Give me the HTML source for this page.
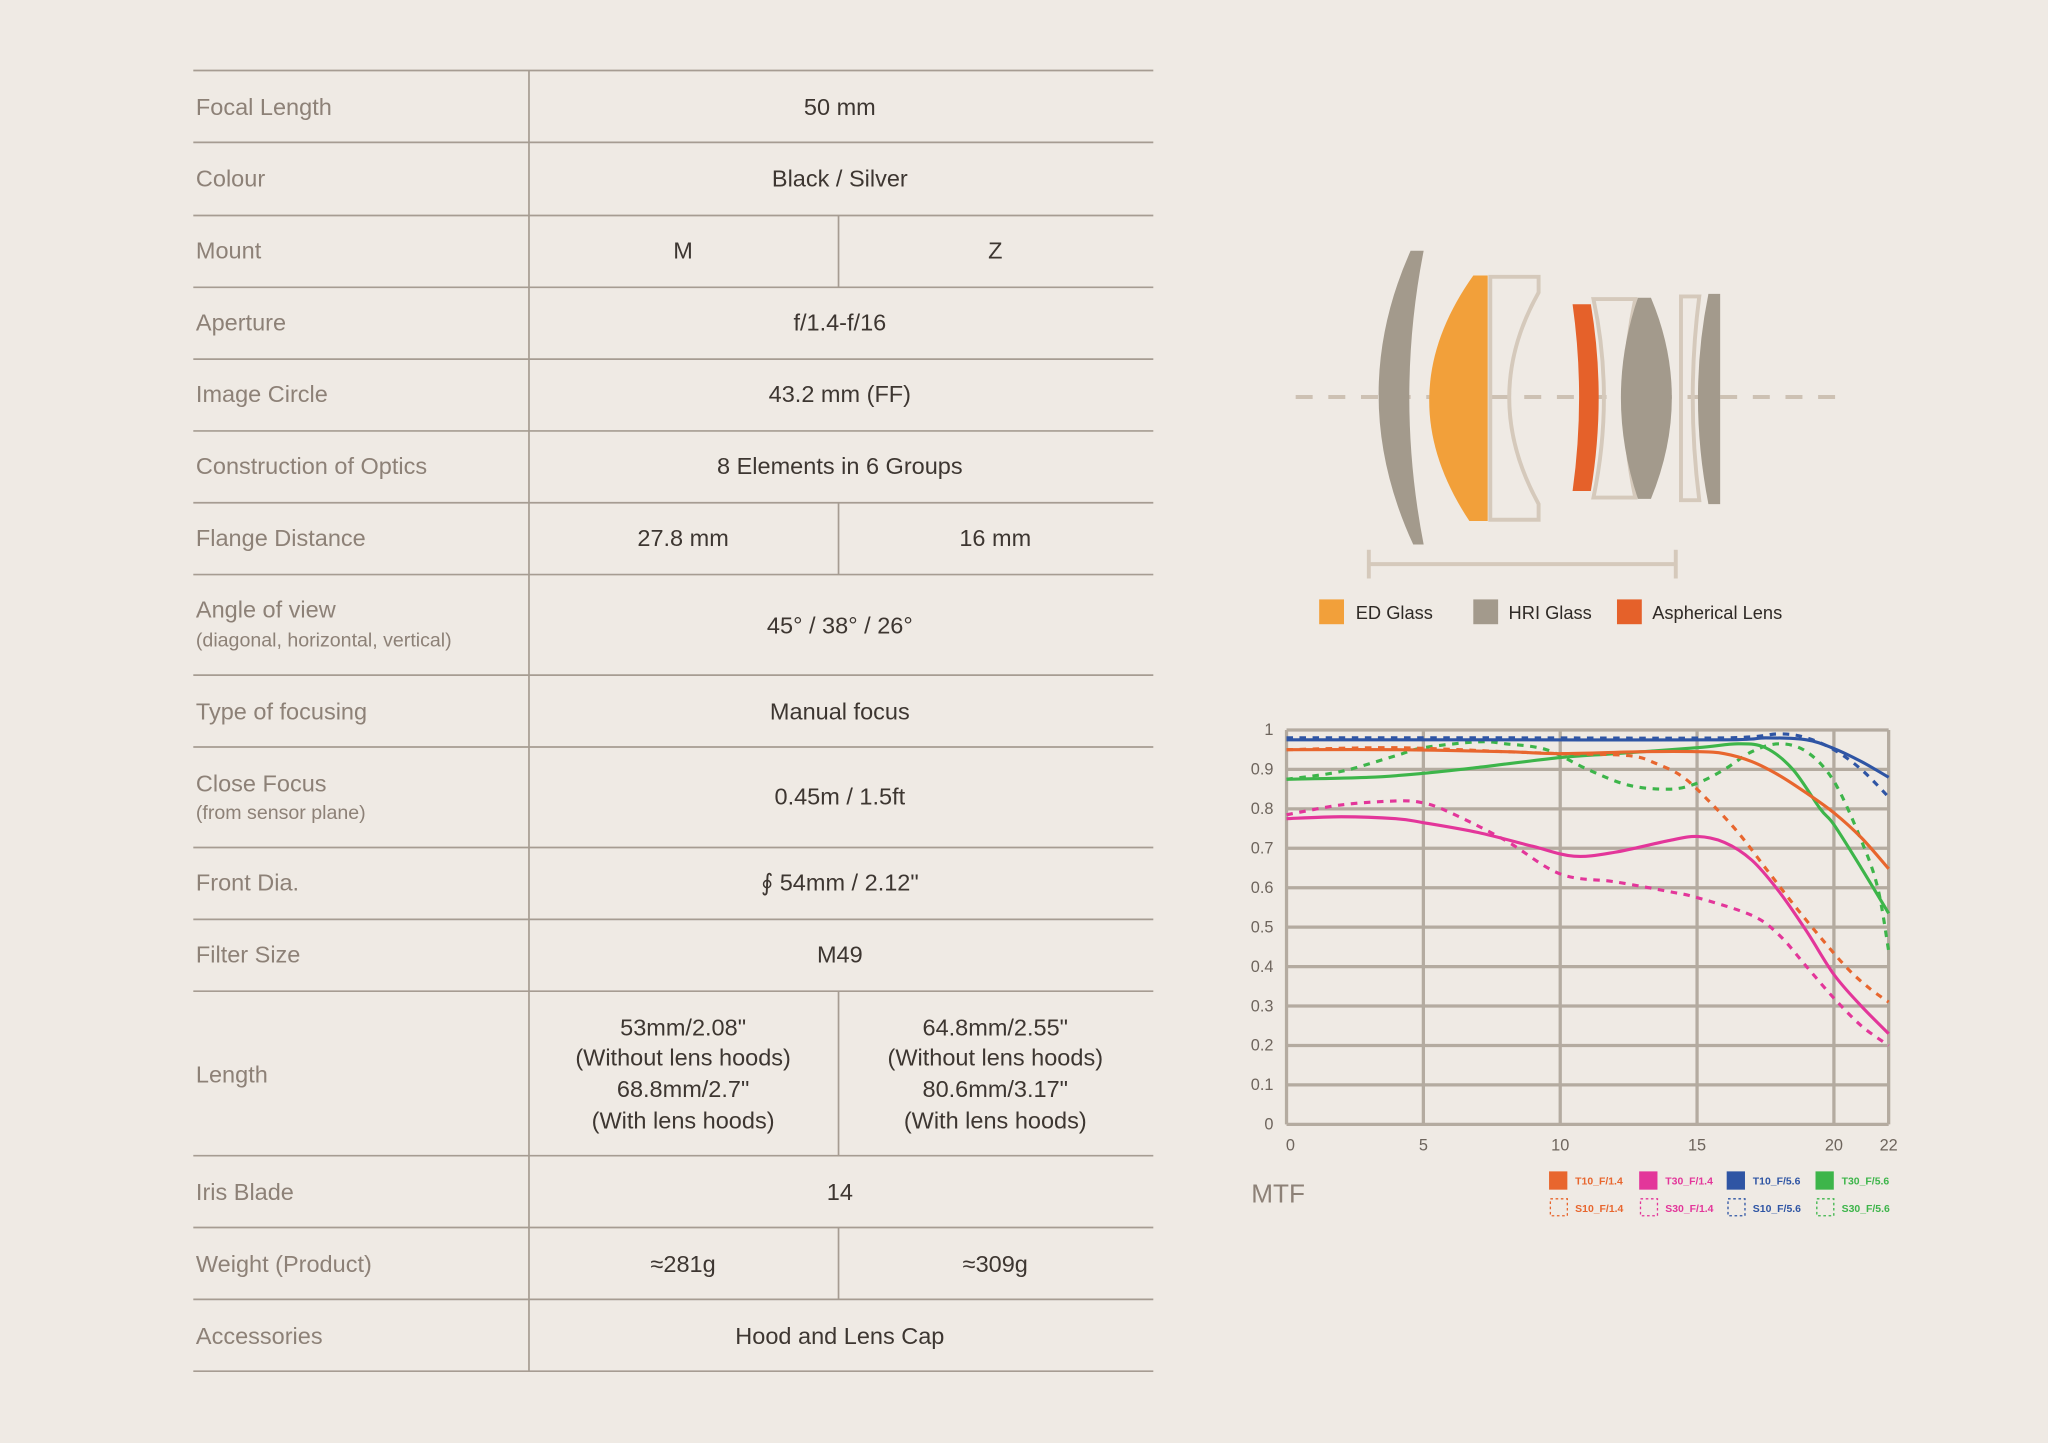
<!DOCTYPE html>
<html><head><meta charset="utf-8"><style>
html,body{margin:0;padding:0;background:#efeae4;}
svg{display:block;}
text{font-family:"Liberation Sans",sans-serif;}
.lb{font-size:18px;fill:#8d8177;}
.sm{font-size:15px;fill:#8d8177;}
.v{font-size:18px;fill:#3d3631;text-anchor:middle;}
.ax{font-size:12.5px;fill:#6e655d;}
</style></head><body>
<svg id="s" width="2048" height="1443" viewBox="0 0 1568 1105" preserveAspectRatio="none" xmlns="http://www.w3.org/2000/svg">
<rect width="1568" height="1105" fill="#efeae4"/>
<!-- table -->
<g stroke="#a69c92" stroke-width="1.3">
<line x1="148" y1="54" x2="883" y2="54"/><line x1="148" y1="109" x2="883" y2="109"/>
<line x1="148" y1="165" x2="883" y2="165"/><line x1="148" y1="220" x2="883" y2="220"/>
<line x1="148" y1="275" x2="883" y2="275"/><line x1="148" y1="330" x2="883" y2="330"/>
<line x1="148" y1="385" x2="883" y2="385"/><line x1="148" y1="440" x2="883" y2="440"/>
<line x1="148" y1="517" x2="883" y2="517"/><line x1="148" y1="572" x2="883" y2="572"/>
<line x1="148" y1="649" x2="883" y2="649"/><line x1="148" y1="704" x2="883" y2="704"/>
<line x1="148" y1="759" x2="883" y2="759"/><line x1="148" y1="885" x2="883" y2="885"/>
<line x1="148" y1="940" x2="883" y2="940"/><line x1="148" y1="995" x2="883" y2="995"/>
<line x1="148" y1="1050" x2="883" y2="1050"/>
<line x1="405" y1="54" x2="405" y2="1050"/>
<line x1="642" y1="165" x2="642" y2="220"/><line x1="642" y1="385" x2="642" y2="440"/>
<line x1="642" y1="759" x2="642" y2="885"/><line x1="642" y1="940" x2="642" y2="995"/>
</g>
<text class="lb" x="150" y="88">Focal Length</text><text class="v" x="643" y="88">50 mm</text>
<text class="lb" x="150" y="143">Colour</text><text class="v" x="643" y="143">Black / Silver</text>
<text class="lb" x="150" y="198">Mount</text><text class="v" x="523" y="198">M</text><text class="v" x="762" y="198">Z</text>
<text class="lb" x="150" y="253">Aperture</text><text class="v" x="643" y="253">f/1.4-f/16</text>
<text class="lb" x="150" y="308">Image Circle</text><text class="v" x="643" y="308">43.2 mm (FF)</text>
<text class="lb" x="150" y="363">Construction of Optics</text><text class="v" x="643" y="363">8 Elements in 6 Groups</text>
<text class="lb" x="150" y="418">Flange Distance</text><text class="v" x="523" y="418">27.8 mm</text><text class="v" x="762" y="418">16 mm</text>
<text class="lb" x="150" y="473">Angle of view</text><text class="sm" x="150" y="495">(diagonal, horizontal, vertical)</text><text class="v" x="643" y="485">45° / 38° / 26°</text>
<text class="lb" x="150" y="551">Type of focusing</text><text class="v" x="643" y="551">Manual focus</text>
<text class="lb" x="150" y="606">Close Focus</text><text class="sm" x="150" y="627">(from sensor plane)</text><text class="v" x="643" y="616">0.45m / 1.5ft</text>
<text class="lb" x="150" y="682">Front Dia.</text><text class="v" x="643" y="682">∮ 54mm / 2.12"</text>
<text class="lb" x="150" y="737">Filter Size</text><text class="v" x="643" y="737">M49</text>
<text class="lb" x="150" y="829">Length</text>
<text class="v" x="523" y="793">53mm/2.08"</text><text class="v" x="523" y="816">(Without lens hoods)</text><text class="v" x="523" y="840">68.8mm/2.7"</text><text class="v" x="523" y="864">(With lens hoods)</text>
<text class="v" x="762" y="793">64.8mm/2.55"</text><text class="v" x="762" y="816">(Without lens hoods)</text><text class="v" x="762" y="840">80.6mm/3.17"</text><text class="v" x="762" y="864">(With lens hoods)</text>
<text class="lb" x="150" y="919">Iris Blade</text><text class="v" x="643" y="919">14</text>
<text class="lb" x="150" y="974">Weight (Product)</text><text class="v" x="523" y="974">≈281g</text><text class="v" x="762" y="974">≈309g</text>
<text class="lb" x="150" y="1029">Accessories</text><text class="v" x="643" y="1029">Hood and Lens Cap</text>

<!-- lens diagram -->
<line x1="992" y1="304" x2="1405" y2="304" stroke="#cdc1b3" stroke-width="3" stroke-dasharray="13,12"/>
<path d="M1080,192 L1090,192 Q1068,304 1090,417 L1082,417 Q1030,304 1080,192Z" fill="#a39a8c"/>
<path d="M1128,211 L1139,211 L1139,399 L1125,399 Q1062,304 1128,211Z" fill="#f2a03a"/>
<path d="M1141,212 L1178,212 L1178,224 Q1133,304 1178,386 L1178,398 L1141,398Z" fill="none" stroke="#d5c9bb" stroke-width="3"/>
<path d="M1204,233 L1218,233 Q1230,304 1218,376 L1204,376 Q1214,304 1204,233Z" fill="#e5612a"/>
<path d="M1220,229 L1252,229 Q1236,304 1252,381 L1220,381 Q1236,304 1220,229Z" fill="none" stroke="#d5c9bb" stroke-width="3"/>
<path d="M1254,228 L1264,228 Q1296,304 1264,382 L1254,382 Q1228,304 1254,228Z" fill="#a39a8c"/>
<path d="M1287,227 L1301,227 Q1291,304 1301,383 L1287,383Z" fill="none" stroke="#d5c9bb" stroke-width="3"/>
<path d="M1308,225 L1317,225 L1317,386 L1308,386 Q1292,304 1308,225Z" fill="#a39a8c"/>
<g stroke="#d5c9bb" stroke-width="3"><line x1="1048" y1="432" x2="1283" y2="432"/><line x1="1048" y1="421" x2="1048" y2="443"/><line x1="1283" y1="421" x2="1283" y2="443"/></g>
<rect x="1010" y="459" width="19" height="19" fill="#f2a03a"/><text x="1038" y="474" font-size="14" fill="#2f2a26">ED Glass</text>
<rect x="1128" y="459" width="19" height="19" fill="#a39a8c"/><text x="1155" y="474" font-size="14" fill="#2f2a26">HRI Glass</text>
<rect x="1238" y="459" width="19" height="19" fill="#e5612a"/><text x="1265" y="474" font-size="14" fill="#2f2a26">Aspherical Lens</text>

<!-- MTF grid -->
<g id="grid" stroke="#b4aba0" stroke-width="2.5" fill="none"></g>
<g id="curves" fill="none" stroke-width="2.4"></g>
<g id="labels"></g>
<text x="958" y="921" font-size="20" fill="#8d8177">MTF</text>
<g font-size="8" font-weight="bold">
<rect x="1186" y="897" width="14" height="14" fill="#e8662e"/><text x="1206" y="907" fill="#e8662e">T10_F/1.4</text>
<rect x="1255" y="897" width="14" height="14" fill="#e3369a"/><text x="1275" y="907" fill="#e3369a">T30_F/1.4</text>
<rect x="1322" y="897" width="14" height="14" fill="#2f55a4"/><text x="1342" y="907" fill="#2f55a4">T10_F/5.6</text>
<rect x="1390" y="897" width="14" height="14" fill="#3db54a"/><text x="1410" y="907" fill="#3db54a">T30_F/5.6</text>
<rect x="1187" y="918" width="13" height="13" fill="none" stroke="#e8662e" stroke-dasharray="2,2"/><text x="1206" y="928" fill="#e8662e">S10_F/1.4</text>
<rect x="1256" y="918" width="13" height="13" fill="none" stroke="#e3369a" stroke-dasharray="2,2"/><text x="1275" y="928" fill="#e3369a">S30_F/1.4</text>
<rect x="1323" y="918" width="13" height="13" fill="none" stroke="#2f55a4" stroke-dasharray="2,2"/><text x="1342" y="928" fill="#2f55a4">S10_F/5.6</text>
<rect x="1391" y="918" width="13" height="13" fill="none" stroke="#3db54a" stroke-dasharray="2,2"/><text x="1410" y="928" fill="#3db54a">S30_F/5.6</text>
</g>
</svg>
<script>
(function(){
var NS="http://www.w3.org/2000/svg";
var X=function(v){return 985+v*(461/22);}, Y=function(v){return 861-v*302;};
function el(p,t,a,txt){var e=document.createElementNS(NS,t);for(var k in a)e.setAttribute(k,a[k]);if(txt!=null)e.textContent=txt;p.appendChild(e);return e;}
var g=document.getElementById('grid'),L=document.getElementById('labels'),C=document.getElementById('curves');
for(var i=0;i<=10;i++){var y=Y(i/10);el(g,'line',{x1:X(0),x2:X(22),y1:y,y2:y});
 el(L,'text',{x:975,y:y+4,'text-anchor':'end','class':'ax'},i==0?'0':i==10?'1':(i/10).toFixed(1));}
[0,5,10,15,20,22].forEach(function(v){el(g,'line',{x1:X(v),x2:X(v),y1:Y(0),y2:Y(1)});
 el(L,'text',{x:X(v)+(v==0?3:0),y:881,'text-anchor':'middle','class':'ax'},String(v));});
function path(pts){var P=pts.map(function(p){return [X(p[0]),Y(p[1])];});var d="M"+P[0][0]+","+P[0][1];
 for(var i=0;i<P.length-1;i++){var p0=P[i-1]||P[i],p1=P[i],p2=P[i+1],p3=P[i+2]||p2;
 d+=" C"+(p1[0]+(p2[0]-p0[0])/6)+","+(p1[1]+(p2[1]-p0[1])/6)+" "+(p2[0]-(p3[0]-p1[0])/6)+","+(p2[1]-(p3[1]-p1[1])/6)+" "+p2[0]+","+p2[1];}return d;}
var S=[
["#3db54a",0,[[0,.875],[3,.88],[5,.89],[7,.905],[10,.93],[12,.94],[15,.955],[16.5,.965],[17.5,.955],[18.5,.9],[19.5,.8],[20,.76],[21,.65],[22,.535]]],
["#3db54a",1,[[0,.875],[2,.895],[4,.935],[5,.955],[7,.97],[8,.965],[9.5,.95],[11,.9],[12.5,.86],[14,.85],[15,.865],[16,.9],[17,.945],[18,.965],[19,.945],[20,.87],[21,.72],[21.6,.6],[22,.44]]],
["#e8662e",0,[[0,.95],[4,.95],[8,.945],[10,.94],[13,.945],[15,.945],[16,.94],[17,.92],[18,.885],[19,.84],[20,.79],[21,.727],[22,.648]]],
["#e8662e",1,[[0,.95],[4,.955],[8,.945],[10,.94],[12.5,.935],[13.5,.915],[14.5,.88],[15.5,.815],[16.5,.74],[17.5,.65],[18.5,.56],[19.5,.475],[20.5,.395],[21.3,.345],[22,.31]]],
["#e3369a",0,[[0,.775],[2,.78],[4,.775],[5,.765],[7,.74],[9,.705],[10.5,.68],[12,.69],[14,.72],[15,.73],[16,.715],[17,.67],[18,.59],[19,.49],[20,.38],[21,.3],[22,.23]]],
["#e3369a",1,[[0,.785],[2,.81],[4,.82],[5,.815],[6,.79],[8,.72],[10,.635],[12,.615],[14,.59],[15,.575],[17,.53],[18,.48],[19,.4],[20,.32],[21,.25],[22,.2]]],
["#2f55a4",0,[[0,.975],[8,.975],[16,.975],[17.5,.98],[19,.975],[20,.953],[21,.92],[22,.88]]],
["#2f55a4",1,[[0,.98],[8,.98],[16,.98],[18,.99],[19,.98],[20,.95],[21,.9],[22,.83]]]];
S.forEach(function(s){var a={d:path(s[2]),stroke:s[0]};if(s[1])a['stroke-dasharray']='5,5';el(C,'path',a);});
})();
</script>
</body></html>
